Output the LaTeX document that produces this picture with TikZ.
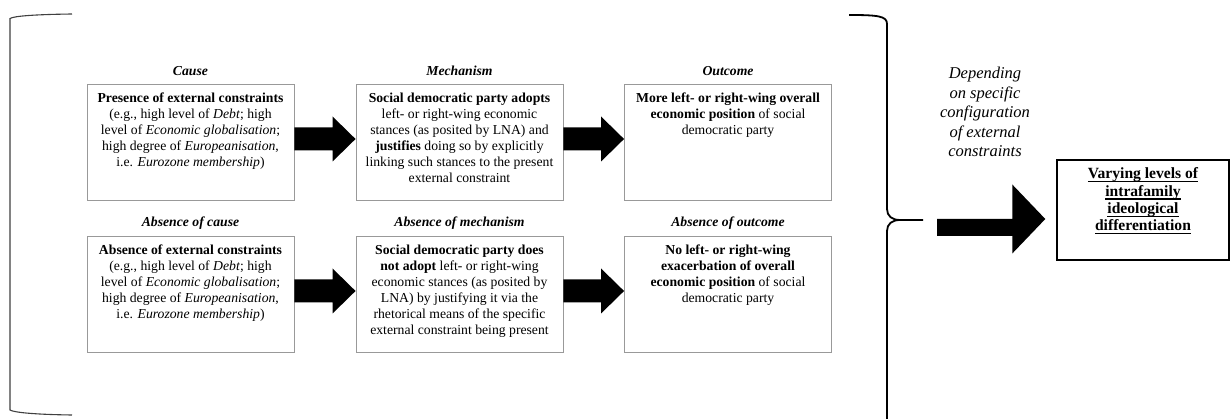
\documentclass[tikz,border=0pt]{standalone}
\usepackage{fontspec}
\setmainfont{Liberation Serif}
\usetikzlibrary{calc}
\newcommand\blockarrow[6]{% from, to, yshift, shaft half, head half, head length
  \fill[black] let \p1=(#1.east), \p2=(#2.west) in
    (\x1,\y1+#3+#4) -- (\x2-#6,\y1+#3+#4) -- (\x2-#6,\y1+#3+#5) -- (\x2,\y1+#3)
    -- (\x2-#6,\y1+#3-#5) -- (\x2-#6,\y1+#3-#4) -- (\x1,\y1+#3-#4) -- cycle;}
\newcommand\myul[1]{\setbox0\hbox{#1}\rlap{\vrule width\wd0 height -2.4pt depth 3.5pt}\box0}
\begin{document}
\begin{tikzpicture}[x=1pt,y=-1pt,
  box/.style={draw=black!40, line width=0.9pt, minimum width=207pt, minimum height=116pt, inner sep=0pt},
  boxtext/.style={anchor=north, align=center, inner sep=0pt, font=\fontsize{13.7}{16}\selectfont},
  head/.style={font=\fontsize{13.7}{16}\selectfont\bfseries\itshape, inner sep=0pt},
  finalbox/.style={draw=black, line width=1.4pt, minimum width=172pt, minimum height=100pt, inner sep=0pt},
  finaltext/.style={align=center, inner sep=0pt, font=\fontsize{15.6}{17.3}\selectfont\bfseries},
  note/.style={align=center, inner sep=0pt, font=\fontsize{16.5}{19.5}\selectfont\itshape}]
\useasboundingbox (0,0) rectangle (1232,419);
\fill[white] (0,0) rectangle (1232,419);

% left bracket
\draw[black!75, line width=1.1pt] (72,14) .. controls (35,14.5) and (14,16) .. (10,18.5)
  -- (10,410) .. controls (14,412.5) and (35,414.5) .. (72,415);

% right brace
\draw[black, line width=1.8pt] (849,15) .. controls (878,15) and (887,16) .. (887,24)
  -- (887,209) .. controls (887,216) and (892,220) .. (900,220) -- (923,220);
\draw[black, line width=1.8pt] (900,220) .. controls (892,220) and (887,224) .. (887,231) -- (887,425);
\coordinate (tip) at (923,220);

% boxes
\node[box] (c1) at (190.5,142) {};
\node[box] (m1) at (459.5,142) {};
\node[box] (o1) at (728,142) {};
\node[box] (c2) at (190.5,294) {};
\node[box] (m2) at (459.5,294) {};
\node[box] (o2) at (728,294) {};

% headers
\node[head] (hc1) at (190.5,71) {Cause};
\node[head] (hm1) at (459.5,71) {Mechanism};
\node[head] (ho1) at (728,71) {Outcome};
\node[head] (hc2) at (190.5,223) {Absence of cause};
\node[head] (hm2) at (459.5,223) {Absence of mechanism};
\node[head] (ho2) at (728,223) {Absence of outcome};

% box texts
\node[boxtext] (tc1) at ($(c1.north)+(0,9.5)$) {\textbf{Presence of external constraints}\\
(e.g., high level of \textit{Debt}; high\\
level of \textit{Economic globalisation};\\
high degree of \textit{Europeanisation},\\
i.e. \textit{Eurozone membership})};
\node[boxtext] (tm1) at ($(m1.north)+(0,9.5)$) {\textbf{Social democratic party adopts}\\
left- or right-wing economic\\
stances (as posited by LNA) and\\
\textbf{justifies} doing so by explicitly\\
linking such stances to the present\\
external constraint};
\node[boxtext] (to1) at ($(o1.north)+(0,9.5)$) {\textbf{More left- or right-wing overall}\\
\textbf{economic position} of social\\
democratic party};
\node[boxtext] (tc2) at ($(c2.north)+(0,9.5)$) {\textbf{Absence of external constraints}\\
(e.g., high level of \textit{Debt}; high\\
level of \textit{Economic globalisation};\\
high degree of \textit{Europeanisation},\\
i.e. \textit{Eurozone membership})};
\node[boxtext] (tm2) at ($(m2.north)+(0,9.5)$) {\textbf{Social democratic party does}\\
\textbf{not adopt} left- or right-wing\\
economic stances (as posited by\\
LNA) by justifying it via the\\
rhetorical means of the specific\\
external constraint being present};
\node[boxtext] (to2) at ($(o2.north)+(0,9.5)$) {\textbf{No left- or right-wing}\\
\textbf{exacerbation of overall}\\
\textbf{economic position} of social\\
democratic party};

% block arrows
\blockarrow{c1}{m1}{3pt}{11.5pt}{22.5pt}{23pt}
\blockarrow{m1}{o1}{3pt}{11.5pt}{22.5pt}{23pt}
\blockarrow{c2}{m2}{3pt}{11.5pt}{22.5pt}{23pt}
\blockarrow{m2}{o2}{3pt}{11.5pt}{22.5pt}{23pt}

% note
\node[note] (note) at (985,112) {Depending\\on specific\\configuration\\of external\\constraints};

% final box
\node[finalbox] (fin) at (1143,210) {};
\node[finaltext] (fint) at (1143,201) {\myul{Varying levels of}\\\myul{intrafamily}\\\myul{ideological}\\\myul{differentiation}};

% big arrow from brace tip to final box
\fill[black] let \p1=(tip), \p2=(fin.west) in
  (\x1+14,\y1+1) -- (\x2-44,\y1+1) -- (\x2-44,\y1+1+34.5) -- (\x2-11,\y1+1+0) -- (\x2-44,\y1+1-34.5)
  -- (\x2-44,\y1+1-17) -- (\x1+14,\y1+1-17) -- cycle;
\end{tikzpicture}
\end{document}
